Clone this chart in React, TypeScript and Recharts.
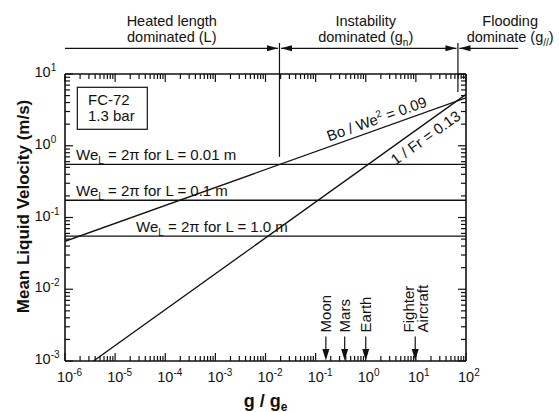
import { LineChart, Line, XAxis, YAxis, ReferenceLine, ReferenceDot } from "recharts";

// g / g_e axis (decades) and velocity axis (decades)
const gMajor = [1e-6, 1e-5, 1e-4, 1e-3, 1e-2, 1e-1, 1, 10, 100];
const uMajor = [1e-3, 1e-2, 1e-1, 1, 10];

// criterion lines (end points)
const boWeLine = [
  { g: 1e-6, u: 0.0466 },
  { g: 100, u: 4.66 },
];
const froudeLine = [
  { g: 3.7e-6, u: 0.001 },
  { g: 100, u: 5.2 },
];

// We_L = 2π velocities for three heated lengths
const weVelocity = [0.55, 0.174, 0.055];
const weLength = ["0.01", "0.1", "1.0"];

// regime boundaries and regions
const boundG = [0.019, 69];
const boundFootU = [0.7, 5.6];
const boundTopU = 27;
const arrowU = 22.8;
const regionFrom = [1e-6, 0.019, 69];
const regionTo = [0.019, 69, 1100];
const regionCenter = [1.35e-4, 1.0, 760];
const regionTitle = ["Heated length", "Instability", "Flooding"];
const regionSub = [
  ["dominated (L)", "", ""],
  ["dominated (g", "n", ")"],
  ["dominate (g", "//", ")"],
];

// gravity levels marked on the g axis
const bodyG = [0.16, 0.38, 1.0, 9.7];
const bodyName = [["Moon"], ["Mars"], ["Earth"], ["Fighter", "Aircraft"]];
const bodyTopU = 0.0022;

const FONT = '"Liberation Sans", Arial, Helvetica, sans-serif';
const INK = "#111";

function minorTicks(lo: number, hi: number) {
  const out: number[] = [];
  for (let e = lo; e < hi; e++) {
    for (let k = 1; k <= 9; k++) out.push(k * Math.pow(10, e));
  }
  out.push(Math.pow(10, hi));
  return out;
}
const gTicks = minorTicks(Math.log10(gMajor[0]), Math.log10(gMajor[gMajor.length - 1]));
const uTicks = minorTicks(Math.log10(uMajor[0]), Math.log10(uMajor[uMajor.length - 1]));

const isMajor = (v: number) => Math.abs(Math.log10(v) - Math.round(Math.log10(v))) < 1e-6;
const expOf = (v: number) => String(Math.round(Math.log10(v)));

function Pow({ x, y, v, anchorEnd }: { x: number; y: number; v: number; anchorEnd?: boolean }) {
  return (
    <text x={anchorEnd ? x - 30.5 : x - 8} y={y} fontSize={14.5} fontFamily={FONT} fill={INK}>
      10
      <tspan dy={-6} fontSize={10}>
        {expOf(v)}
      </tspan>
    </text>
  );
}

function BottomTick(p: any) {
  const { x, y, payload } = p;
  const m = isMajor(payload.value);
  return (
    <g>
      <line x1={x} x2={x} y1={y} y2={y - (m ? 8 : 5)} stroke={INK} strokeWidth={1.2} />
      {m && <Pow x={x} y={y + 21} v={payload.value} />}
    </g>
  );
}

function TopTick(p: any) {
  const { x, y, payload } = p;
  const m = isMajor(payload.value);
  return <line x1={x} x2={x} y1={y} y2={y + (m ? 8 : 5)} stroke={INK} strokeWidth={1.2} />;
}

function LeftTick(p: any) {
  const { x, y, payload } = p;
  const m = isMajor(payload.value);
  return (
    <g>
      <line x1={x} x2={x + (m ? 8 : 5)} y1={y} y2={y} stroke={INK} strokeWidth={1.2} />
      {m && <Pow x={x} y={y + 3} v={payload.value} anchorEnd />}
    </g>
  );
}

function RightTick(p: any) {
  const { x, y, payload } = p;
  const m = isMajor(payload.value);
  return <line x1={x} x2={x - (m ? 8 : 5)} y1={y} y2={y} stroke={INK} strokeWidth={1.2} />;
}

function HArrow(p: any) {
  const { x1, x2, y1, start, end } = p;
  const a = x1 + (start ? 1.5 : 0);
  const b = x2 - (end ? 1.5 : 0);
  return (
    <g>
      <line x1={a} x2={b} y1={y1} y2={y1} stroke={INK} strokeWidth={1.2} />
      {start && <polygon points={`${a},${y1} ${a + 11},${y1 - 3} ${a + 11},${y1 + 3}`} fill={INK} />}
      {end && <polygon points={`${b},${y1} ${b - 11},${y1 - 3} ${b - 11},${y1 + 3}`} fill={INK} />}
    </g>
  );
}

function BodyArrow(p: any) {
  const { x1, y1, y2, names } = p;
  const n = names.length;
  return (
    <g>
      <line x1={x1} x2={x1} y1={y1} y2={y2 - 11} stroke={INK} strokeWidth={1.2} />
      <polygon points={`${x1},${y2 - 0.5} ${x1 - 3.5},${y2 - 12} ${x1 + 3.5},${y2 - 12}`} fill={INK} />
      {names.map((s: string, i: number) => (
        <text
          key={s}
          transform={`translate(${x1 + 5.5 + (i - (n - 1) / 2) * 14},${y1 - 4}) rotate(-90)`}
          fontSize={15}
          fontFamily={FONT}
          fill={INK}
        >
          {s}
        </text>
      ))}
    </g>
  );
}

export default function App() {
  return (
    <div style={{ position: "absolute", left: 0, top: 0, width: 559, height: 412, background: "#fff" }}>
      <LineChart width={559} height={412} margin={{ top: 44, right: 63, bottom: 21, left: 25 }}>
        <XAxis
          dataKey="g"
          type="number"
          scale="log"
          domain={[1e-6, 100]}
          allowDataOverflow
          ticks={gTicks}
          interval={0}
          height={30}
          tickSize={0}
          tickMargin={0}
          tick={BottomTick}
          axisLine={{ stroke: INK, strokeWidth: 1.6 }}
          label={(p: any) => {
            const vb = p.viewBox;
            return (
              <text
                x={vb.x + vb.width / 2}
                y={vb.y + 45.5}
                textAnchor="middle"
                fontSize={18}
                fontWeight="bold"
                fontFamily={FONT}
                fill={INK}
              >
                g / g
                <tspan dy={4} fontSize={12}>
                  e
                </tspan>
              </text>
            );
          }}
        />
        <XAxis
          xAxisId="top"
          orientation="top"
          dataKey="g"
          type="number"
          scale="log"
          domain={[1e-6, 100]}
          allowDataOverflow
          ticks={gTicks}
          interval={0}
          height={30}
          tickSize={0}
          tickMargin={0}
          tick={TopTick}
          axisLine={{ stroke: INK, strokeWidth: 1.6 }}
        />
        <YAxis
          type="number"
          scale="log"
          domain={[1e-3, 10]}
          allowDataOverflow
          ticks={uTicks}
          interval={0}
          width={40}
          tickSize={0}
          tickMargin={0}
          tick={LeftTick}
          axisLine={{ stroke: INK, strokeWidth: 1.6 }}
          label={(p: any) => {
            const vb = p.viewBox;
            const cy = vb.y + vb.height / 2 - 11;
            return (
              <text
                transform={`translate(${vb.x + vb.width - 36},${cy}) rotate(-90)`}
                textAnchor="middle"
                fontSize={17}
                fontWeight="bold"
                fontFamily={FONT}
                fill={INK}
              >
                Mean Liquid Velocity (m/s)
              </text>
            );
          }}
        />
        <YAxis
          yAxisId="right"
          orientation="right"
          type="number"
          scale="log"
          domain={[1e-3, 10]}
          allowDataOverflow
          ticks={uTicks}
          interval={0}
          width={30}
          tickSize={0}
          tickMargin={0}
          tick={RightTick}
          axisLine={{ stroke: INK, strokeWidth: 1.6 }}
        />

        {weVelocity.map((u, i) => (
          <ReferenceLine
            key={u}
            y={u}
            shape={(p: any) => (
              <g>
                <line x1={p.x1} x2={p.x2} y1={p.y1} y2={p.y2} stroke={INK} strokeWidth={1.3} />
                <text x={p.x1 + (i === 2 ? 71 : 11)} y={p.y1 - 4.5} fontSize={15} fontFamily={FONT} fill={INK}>
                  We
                  <tspan dy={4} fontSize={10}>
                    L
                  </tspan>
                  <tspan dy={-4}>{` = 2\u03c0 for L = ${weLength[i]} m`}</tspan>
                </text>
              </g>
            )}
          />
        ))}

        <Line data={boWeLine} dataKey="u" stroke={INK} strokeWidth={1.3} dot={false} isAnimationActive={false} />
        <Line data={froudeLine} dataKey="u" stroke={INK} strokeWidth={1.3} dot={false} isAnimationActive={false} />

        <ReferenceDot
          x={1.94}
          y={1.74}
          ifOverflow="visible"
          shape={(p: any) => (
            <text
              transform={`translate(${p.cx},${p.cy}) rotate(-19.7)`}
              y={-5}
              textAnchor="middle"
              fontSize={15}
              fontFamily={FONT}
              fill={INK}
            >
              Bo / We
              <tspan dy={-6} fontSize={10}>
                2
              </tspan>
              <tspan dy={6}> = 0.09</tspan>
            </text>
          )}
        />
        <ReferenceDot
          x={11.4}
          y={1.76}
          ifOverflow="visible"
          shape={(p: any) => (
            <text
              transform={`translate(${p.cx},${p.cy}) rotate(-35.6)`}
              y={17}
              textAnchor="middle"
              fontSize={15}
              fontFamily={FONT}
              fill={INK}
            >
              1 / Fr = 0.13
            </text>
          )}
        />

        <ReferenceDot
          x={1e-6}
          y={10}
          ifOverflow="visible"
          shape={(p: any) => (
            <g>
              <rect x={p.cx + 12.3} y={p.cy + 13.3} width={70} height={42} fill="#fff" stroke={INK} strokeWidth={1.2} />
              <text x={p.cx + 23} y={p.cy + 31} fontSize={15} fontFamily={FONT} fill={INK}>
                FC-72
              </text>
              <text x={p.cx + 23} y={p.cy + 47} fontSize={15} fontFamily={FONT} fill={INK}>
                1.3 bar
              </text>
            </g>
          )}
        />

        {boundG.map((g, i) => (
          <ReferenceLine
            key={g}
            ifOverflow="visible"
            segment={[
              { x: g, y: boundFootU[i] },
              { x: g, y: boundTopU },
            ]}
            stroke={INK}
            strokeWidth={1.2}
          />
        ))}

        {regionFrom.map((g, i) => (
          <ReferenceLine
            key={"arr" + g}
            ifOverflow="visible"
            segment={[
              { x: g, y: arrowU },
              { x: regionTo[i], y: arrowU },
            ]}
            shape={(p: any) => <HArrow {...p} start={i > 0} end={i < 2} />}
          />
        ))}

        {regionCenter.map((g, i) => (
          <ReferenceDot
            key={"lab" + g}
            x={g}
            y={arrowU}
            ifOverflow="visible"
            shape={(p: any) => (
              <g fontSize={14.5} fontFamily={FONT} fill={INK} textAnchor="middle">
                <text x={p.cx} y={p.cy - 22}>
                  {regionTitle[i]}
                </text>
                <text x={p.cx} y={p.cy - 6.6}>
                  {regionSub[i][0]}
                  {regionSub[i][1] && (
                    <tspan dy={4} fontSize={10}>
                      {regionSub[i][1]}
                    </tspan>
                  )}
                  {regionSub[i][2] && <tspan dy={-4}>{regionSub[i][2]}</tspan>}
                </text>
              </g>
            )}
          />
        ))}

        {bodyG.map((g, i) => (
          <ReferenceLine
            key={"body" + g}
            ifOverflow="visible"
            segment={[
              { x: g, y: bodyTopU },
              { x: g, y: 1e-3 },
            ]}
            shape={(p: any) => <BodyArrow {...p} names={bodyName[i]} />}
          />
        ))}
      </LineChart>
    </div>
  );
}
